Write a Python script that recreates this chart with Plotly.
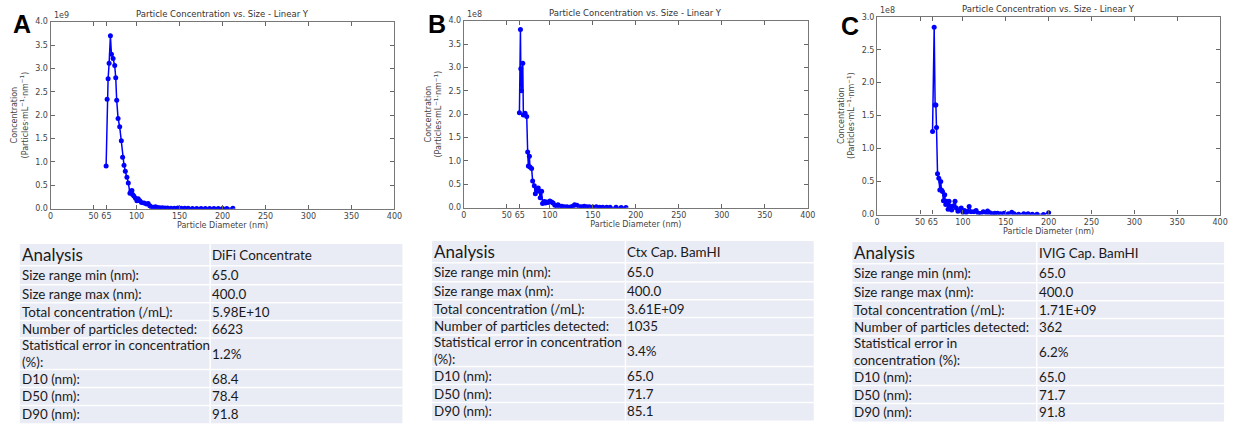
import plotly.graph_objects as go

# ---------------- data (x: nm, y: concentration in units of the axis multiplier) -------------
a_x = [64.6, 65.8, 66.9, 68.1, 69.6, 70.8, 72.7, 74.6, 75.8, 76.9, 78.5, 80.4, 82.3, 83.8, 85.4,
       86.9, 88.8, 90.4, 92.3, 93.5, 94.6, 95.4, 96.9, 98.8, 100.4, 101.9, 103.8, 105.8, 108.8,
       111.5, 113.5, 115.4, 117.3, 119.5, 122, 124.5, 127, 130, 133, 136, 140, 144, 148, 152, 156,
       160, 165, 170, 175, 180, 185, 190, 195, 200, 205, 212]
a_y = [0.91, 2.34, 2.78, 3.11, 3.70, 3.30, 3.21, 3.06, 2.80, 2.32, 1.93, 1.75, 1.45, 1.10, 0.93,
       0.80, 0.67, 0.55, 0.33, 0.37, 0.39, 0.30, 0.27, 0.22, 0.17, 0.21, 0.17, 0.13, 0.12,
       0.10, 0.11, 0.06, 0.035, 0.03, 0.04, 0.025, 0.02, 0.02, 0.015, 0.012, 0.01, 0.01, 0.012,
       0.008, 0.006, 0.006, 0.005, 0.005, 0.004, 0.005, 0.004, 0.003, 0.003, 0.002, 0.003, 0.01]

b_x = [64.6, 65.8, 66.2, 66.9, 68.5, 69.2, 71.2, 73.1, 74.2, 75.0, 76.2, 76.9, 78.8, 80.0, 81.9,
       83.1, 84.6, 86.5, 87.7, 88.8, 90.4, 91.5, 93.5, 95.0, 96.2, 98.0, 100.0, 102.0, 103.8,
       105.8, 107.7, 109.5, 111.5, 114, 117, 120, 123, 125, 127, 128.8, 131.5, 134.6, 137, 140,
       143, 146, 150, 154, 158, 161.5, 166, 170, 177, 183, 188.5]
b_y = [2.03, 3.81, 2.97, 2.50, 3.09, 1.98, 2.02, 1.95, 1.19, 0.89, 1.10, 0.87, 0.84, 0.57, 0.47,
       0.30, 0.38, 0.42, 0.35, 0.21, 0.35, 0.09, 0.13, 0.10, 0.12, 0.11, 0.14, 0.12, 0.10,
       0.05, 0.04, 0.06, 0.03, 0.03, 0.02, 0.02, 0.01, 0.02, 0.03, 0.06, 0.05, 0.02, 0.02, 0.03,
       0.02, 0.02, 0.015, 0.02, 0.01, 0.01, 0.01, 0.008, 0.01, 0.005, 0.005]

c_x = [64.6, 66.5, 67.6, 68.5, 69.2, 70.4, 71.9, 73.1, 74.2, 75.0, 76.2, 77.3, 78.8, 80.0, 81.2,
       82.7, 83.8, 85.4, 86.9, 88.5, 90.8, 92.3, 94.2, 96.2, 98.0, 100.0, 101.9, 104.0, 105.8,
       107.3, 109.6, 112.7, 115.4, 118.0, 121.0, 123.8, 127.3, 128.8, 131.5, 134.6, 137.3, 140.4,
       144, 148, 153, 157, 159.6, 165, 171, 176, 181, 186.5, 194, 200]
c_y = [1.26, 2.84, 1.66, 1.66, 1.32, 0.62, 0.55, 0.37, 0.50, 0.37, 0.35, 0.21, 0.30, 0.15, 0.20,
       0.08, 0.20, 0.12, 0.07, 0.13, 0.20, 0.10, 0.05, 0.07, 0.10, 0.03, 0.06, 0.03, 0.05,
       0.12, 0.04, 0.04, 0.06, 0.02, 0.015, 0.04, 0.025, 0.055, 0.025, 0.01, 0.02, 0.02,
       0.01, 0.02, 0.01, 0.035, 0.01, 0.005, 0.01, 0.01, 0.005, 0.005, 0.0, 0.025]

x_ticks = [0, 50, 65, 100, 150, 200, 250, 300, 350, 400]
y_max = [4.0, 4.0, 3.0]
multipliers = ["1e9", "1e8", "1e8"]
panel_letters = ["A", "B", "C"]

row_labels_ab = ["Size range min (nm):", "Size range max (nm):", "Total concentration (/mL):",
                 "Number of particles detected:", "Statistical error in concentration<br>(%):",
                 "D10 (nm):", "D50 (nm):", "D90 (nm):"]
row_labels_c = ["Size range min (nm):", "Size range max (nm):", "Total concentration (/mL):",
                "Number of particles detected:", "Statistical error in<br>concentration (%):",
                "D10 (nm):", "D50 (nm):", "D90 (nm):"]
samples = ["DiFi Concentrate", "Ctx Cap. BamHI", "IVIG Cap. BamHI"]
values_a = ["65.0", "400.0", "5.98E+10", "6623", "1.2%", "68.4", "78.4", "91.8"]
values_b = ["65.0", "400.0", "3.61E+09", "1035", "3.4%", "65.0", "71.7", "85.1"]
values_c = ["65.0", "400.0", "1.71E+09", "362", "6.2%", "65.0", "71.7", "91.8"]

# ---------------- layout geometry (pixels) ----------------
W, H = 1239, 431
plot_px = [(48, 395, 18, 209), (465, 812, 17, 208), (882, 1228, 13, 215)]
# table: left, column split, right, top
table_px = [(17, 209, 403, 245), (433, 628, 818, 242), (857, 1043, 1232, 243)]
row_h = [22.3, 19.4, 18.3, 18.3, 17.7, 32.3, 18.4, 18.3, 18.3]
letter_px = [(19, 20), (438, 20), (855, 22)]

series = [(a_x, a_y), (b_x, b_y), (c_x, c_y)]
labels = [row_labels_ab, row_labels_ab, row_labels_c]
values = [values_a, values_b, values_c]

fig = go.Figure()
axis_font = dict(family="DejaVu Sans", size=8, color="#444")
annotations = []
shapes = []
layout_axes = {}


def px(x):
    return x / W


def py(y):
    return 1 - y / H


tab_font = dict(family="Lato", size=13.4, color="#1a1a1a")
tab_fill = "#e9ebf5"

for i in range(3):
    sx = "" if i == 0 else str(i + 1)
    x0, x1, y0, y1 = plot_px[i]
    xd = [px(x0), px(x1)]
    yd = [py(y1), py(y0)]
    fig.add_trace(go.Scatter(
        x=series[i][0], y=series[i][1], mode="lines+markers",
        line=dict(color="#0000ff", width=1.5),
        marker=dict(color="#0000ff", size=5, symbol="circle"),
        xaxis="x" + sx, yaxis="y" + sx, showlegend=False, hoverinfo="skip"))
    layout_axes["xaxis" + sx] = dict(
        domain=xd, range=[0, 400], tickvals=x_ticks, ticktext=[str(t) for t in x_ticks],
        ticks="inside", ticklen=4, tickcolor="#666", showline=True, mirror="ticks",
        linecolor="#777", linewidth=1.2, showgrid=False, zeroline=False,
        tickfont=axis_font, anchor="y" + sx,
        title=dict(text="Particle Diameter (nm)", font=axis_font, standoff=2))
    layout_axes["yaxis" + sx] = dict(
        domain=yd, range=[0, y_max[i]], dtick=0.5, tickformat=".1f",
        ticks="inside", ticklen=4, tickcolor="#666", showline=True, mirror="ticks",
        linecolor="#777", linewidth=1.2, showgrid=False, zeroline=False,
        tickfont=axis_font, anchor="x" + sx,
        title=dict(text="Concentration<br>(Particles·mL<sup>−1</sup>·nm<sup>−1</sup>)",
                   font=axis_font, standoff=5))
    annotations.append(dict(
        text="Particle Concentration vs. Size - Linear Y", xref="paper", yref="paper",
        x=(xd[0] + xd[1]) / 2, y=yd[1], yshift=1, xanchor="center", yanchor="bottom",
        showarrow=False, font=dict(family="DejaVu Sans", size=8.5, color="#333")))
    annotations.append(dict(
        text=multipliers[i], xref="paper", yref="paper", x=xd[0], y=yd[1], xshift=1,
        xanchor="left", yanchor="bottom", showarrow=False,
        font=dict(family="DejaVu Sans", size=8, color="#444")))
    lx, ly = letter_px[i]
    annotations.append(dict(
        text="<b>%s</b>" % panel_letters[i], xref="paper", yref="paper", x=px(lx), y=py(ly),
        xanchor="center", yanchor="middle", showarrow=False,
        font=dict(family="Liberation Sans", size=25, color="#000")))

    # ---- table drawn with shapes + text annotations ----
    tl, ts, tr, tt = table_px[i]
    tb = tt + sum(row_h)
    shapes.append(dict(type="rect", xref="paper", yref="paper", x0=px(tl), x1=px(tr),
                       y0=py(tb), y1=py(tt), fillcolor=tab_fill, line=dict(width=0),
                       layer="below"))
    shapes.append(dict(type="line", xref="paper", yref="paper", x0=px(ts), x1=px(ts),
                       y0=py(tb), y1=py(tt), line=dict(color="white", width=1.5)))
    col1 = ["Analysis"] + labels[i]
    col2 = [samples[i]] + values[i]
    ytop = tt
    for r, h in enumerate(row_h):
        if r > 0:
            shapes.append(dict(type="line", xref="paper", yref="paper", x0=px(tl), x1=px(tr),
                               y0=py(ytop), y1=py(ytop), line=dict(color="white", width=1.5)))
        yc = py(ytop + h / 2)
        f1 = dict(tab_font, size=17) if r == 0 else tab_font
        annotations.append(dict(text=col1[r], xref="paper", yref="paper", x=px(tl), y=yc,
                                xanchor="left", yanchor="middle", align="left",
                                showarrow=False, font=f1))
        annotations.append(dict(text=col2[r], xref="paper", yref="paper", x=px(ts), y=yc,
                                xanchor="left", yanchor="middle", align="left",
                                showarrow=False, font=tab_font))
        ytop += h

fig.update_layout(width=W, height=H, margin=dict(l=0, r=0, t=0, b=0),
                  paper_bgcolor="white", plot_bgcolor="white", showlegend=False,
                  annotations=annotations, shapes=shapes, **layout_axes)

fig.write_html("out.html", config={"displayModeBar": False},
               post_script="document.body.style.margin='0';")
